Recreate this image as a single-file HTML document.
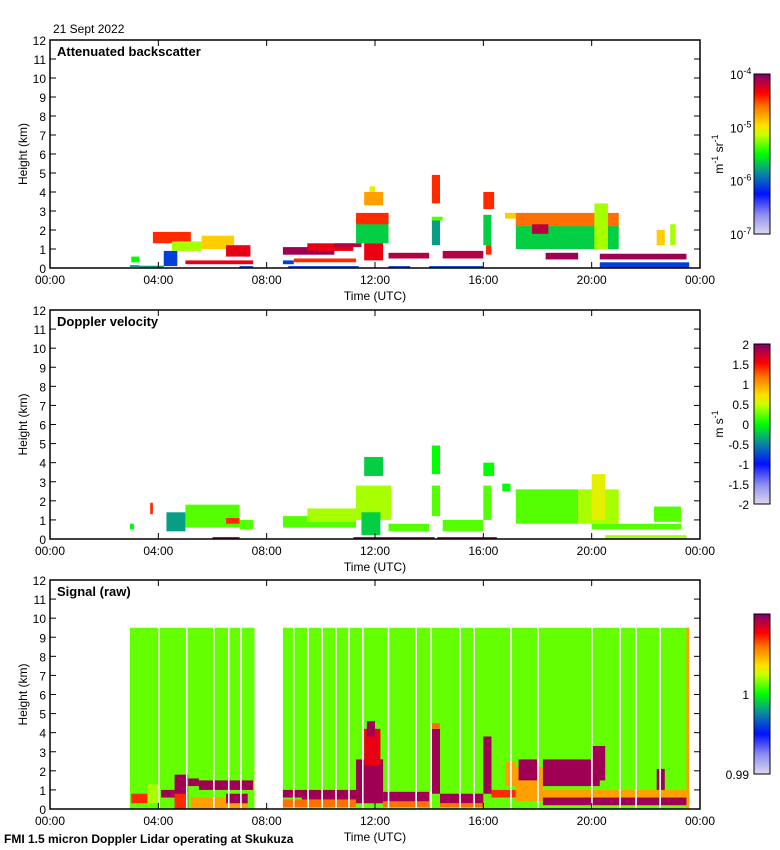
<!DOCTYPE html>
<html><head><meta charset="utf-8"><style>
body{margin:0;background:#fff;}
svg{display:block;font-family:"Liberation Sans",sans-serif;}
</style></head><body>
<svg id="chart" width="780" height="850" viewBox="0 0 780 850">
<defs>
<linearGradient id="cmap" x1="0" y1="1" x2="0" y2="0">
<stop offset="0" stop-color="#ddd8ee"/><stop offset="0.12" stop-color="#8f8ff0"/><stop offset="0.25" stop-color="#0010ff"/>
<stop offset="0.38" stop-color="#0a8aa0"/><stop offset="0.5" stop-color="#00ff00"/><stop offset="0.62" stop-color="#c8ff00"/>
<stop offset="0.68" stop-color="#ffe000"/><stop offset="0.8" stop-color="#ff7000"/><stop offset="0.88" stop-color="#ff0000"/>
<stop offset="1" stop-color="#800070"/></linearGradient>
</defs>
<text x="53" y="33" font-size="12">21 Sept 2022</text>
<text x="4" y="843" font-size="12" font-weight="bold">FMI 1.5 micron Doppler Lidar operating at Skukuza</text>
<g id="plots"></g>
</svg>
<script>
// Panel 1: attenuated backscatter segments [startHour, endHour, baseKm, topKm, colorLevel]
const bsStart=[2.95,3.0,3.3,4.2,3.8,4.5,5.6,6.5,5.0,7.0,8.6,8.6,9.5,9.0,10.5,8.8,11.3,11.3,11.6,11.8,11.6,12.5,12.5,14.1,14.1,14.1,14.5,14.0,16.0,16.0,16.1,16.8,17.2,17.2,17.8,18.3,20.3,20.1,20.3,22.4,22.9];
const bsEnd=[3.3,3.3,4.2,4.7,5.2,5.6,6.8,7.4,7.5,7.5,10.5,9.0,11.2,11.3,11.5,11.4,12.5,12.5,12.3,12.0,12.3,14.0,13.3,14.4,14.5,14.4,16.0,16.0,16.3,16.4,16.3,17.3,21.0,21.0,18.4,19.5,23.5,20.6,23.6,22.7,23.1];
const bsBase=[0.05,0.3,0,0.1,1.3,0.9,1.0,0.6,0.2,0,0.7,0.2,0.9,0.3,1.1,0,1.3,2.3,3.3,4.0,0.4,0.5,0,1.2,2.5,3.4,0.5,0,1.2,3.1,0.7,2.6,1.0,2.2,1.8,0.45,0.45,1.0,0,1.2,1.2];
const bsTop=[0.15,0.6,0.12,0.9,1.9,1.4,1.7,1.2,0.4,0.1,1.1,0.4,1.3,0.5,1.3,0.1,2.6,2.9,4.0,4.3,1.3,0.8,0.1,2.6,2.7,4.9,0.9,0.1,2.8,4.0,1.2,2.9,2.4,2.9,2.3,0.8,0.75,3.4,0.3,2.0,2.3];
const bsLevel=[0.4,0.5,0.4,0.3,0.85,0.6,0.7,0.9,0.9,0.3,0.97,0.3,0.9,0.85,0.95,0.3,0.45,0.85,0.75,0.65,0.9,0.95,0.3,0.4,0.55,0.85,0.95,0.3,0.45,0.85,0.85,0.7,0.45,0.8,0.95,0.97,0.97,0.6,0.3,0.7,0.6];
// Panel 2: Doppler velocity
const dvStart=[2.95,3.7,4.3,5.0,6.5,7.0,6.0,8.6,9.5,11.3,11.6,11.5,11.2,12.5,14.1,14.1,14.5,14.3,16.0,16.0,16.7,17.2,19.5,20.0,20.0,20.5,22.3];
const dvEnd=[3.1,3.8,5.0,7.0,7.0,7.5,7.0,11.3,11.3,12.6,12.3,12.2,14.2,14.0,14.4,14.4,16.0,16.5,16.3,16.4,17.0,19.5,21.0,20.5,23.3,23.5,23.3];
const dvBase=[0.5,1.3,0.4,0.6,0.8,0.5,0,0.6,0.9,1.0,3.3,0.2,0,0.4,1.2,3.4,0.4,0,1.0,3.3,2.5,0.8,0.8,1.0,0.5,0,0.9];
const dvTop=[0.8,1.9,1.4,1.8,1.1,1.0,0.1,1.2,1.6,2.8,4.3,1.4,0.1,0.8,2.8,4.9,1.0,0.1,2.8,4.0,2.9,2.6,2.6,3.4,0.8,0.2,1.7];
const dvLevel=[0.5,0.85,0.4,0.55,0.85,0.55,0.97,0.55,0.6,0.6,0.45,0.45,0.97,0.55,0.55,0.5,0.55,0.97,0.55,0.5,0.5,0.55,0.6,0.65,0.55,0.6,0.55];
// Panel 3: raw signal
const sgStart=[2.95,8.6,3.0,3.6,4.1,4.6,4.6,5.1,5.5,5.2,6.5,8.6,8.6,9.3,11.3,11.6,11.7,12.3,12.3,14.1,14.1,14.4,14.4,16.0,16.3,16.8,17.2,17.2,17.3,18.2,18.2,20.0,22.4,23.5];
const sgEnd=[7.55,23.6,3.6,4.0,4.6,5.1,5.1,5.5,7.5,7.3,7.3,9.5,11.3,11.3,12.3,12.2,12.0,14.0,14.0,14.4,14.4,16.0,16.0,16.3,17.2,17.2,23.6,18.2,18.0,20.3,23.6,20.5,22.7,23.6];
const sgBase=[0,0,0.3,0.3,0.6,0,0,1.2,1.0,0,0.3,0.6,0.1,0.5,0.3,2.3,3.8,0.4,0.1,0.8,4.2,0.3,0.1,0.8,0.6,1.2,0.4,0.5,1.5,1.2,0.2,1.5,1.0,0];
const sgTop=[9.5,9.5,0.8,1.3,1.0,1.8,0.8,1.6,1.5,0.6,0.8,1.0,0.5,1.0,2.6,4.2,4.6,0.9,0.4,4.2,4.5,0.8,0.3,3.8,1.0,2.5,1.0,2.2,2.6,2.6,0.6,3.3,2.1,9.5];
const sgLevel=[0.56,0.56,0.85,0.6,0.97,0.97,0.85,0.97,0.97,0.75,0.97,0.97,0.8,0.97,0.97,0.9,0.97,0.97,0.8,0.97,0.8,0.97,0.8,0.97,0.85,0.75,0.75,0.75,0.97,0.97,0.97,0.97,0.97,0.75];
const sgGaps=[4.03,5.05,6.05,6.6,7.05,9.0,9.53,10.05,10.56,11.04,11.55,12.5,13.52,14.07,15.14,15.66,17.02,18.02,20.01,21.05,21.64,22.53];
const xTicks=["00:00","04:00","08:00","12:00","16:00","20:00","00:00"];
const yTicks=[0,1,2,3,4,5,6,7,8,9,10,11,12];
const bsCbLabels=["-4","-5","-6","-7"];
const dvCbLabels=["2","1.5","1","0.5","0","-0.5","-1","-1.5","-2"];

const NS="http://www.w3.org/2000/svg";
const stops=[[0,[221,216,238]],[0.12,[143,143,240]],[0.25,[0,16,255]],[0.38,[10,138,160]],[0.5,[0,255,0]],[0.62,[200,255,0]],[0.68,[255,224,0]],[0.8,[255,112,0]],[0.88,[255,0,0]],[1,[128,0,112]]];
function cmap(v){for(let i=1;i<stops.length;i++){if(v<=stops[i][0]){const a=stops[i-1],b=stops[i];const t=(v-a[0])/(b[0]-a[0]);return `rgb(${a[1].map((c,j)=>Math.round(c+(b[1][j]-c)*t)).join(',')})`;}}return 'rgb(128,0,112)';}
const plots=document.getElementById('plots');
function el(tag,attrs,parent){const e=document.createElementNS(NS,tag);for(const k in attrs)e.setAttribute(k,attrs[k]);(parent||plots).appendChild(e);return e;}
const X0=50,X1=700;
function xs(h){return X0+h*(X1-X0)/24;}

function panel(idx,top,bot,title,S,E,B,T,L,gaps,cbLabels,unit){
  const g=el('g',{});
  
  
  const ys=k=>bot-k*(bot-top)/12;
  for(let i=0;i<S.length;i++){
    const r=el('rect',{x:xs(S[i]),y:ys(T[i]),width:xs(E[i])-xs(S[i]),height:ys(B[i])-ys(T[i]),fill:cmap(L[i])},g);
    
    
  }
  if(gaps){for(const h of gaps){const r=el('rect',{x:xs(h)-0.8,y:ys(9.5),width:1.6,height:ys(0)-ys(9.5),fill:'#fff'},g);
    
    }}
  el('rect',{x:X0,y:top,width:X1-X0,height:bot-top,fill:'none',stroke:'#000','stroke-width':1.5},g);
  for(const k of yTicks){const y=ys(k);
    el('line',{x1:X0,x2:X0+6,y1:y,y2:y,stroke:'#000'},g);
    el('line',{x1:X1-6,x2:X1,y1:y,y2:y,stroke:'#000'},g);
    const t=el('text',{x:X0-4,y:y+5,'font-size':12,'text-anchor':'end'},g);t.textContent=k;
    
    }
  xTicks.forEach((lab,i)=>{const x=xs(i*4);
    el('line',{x1:x,x2:x,y1:bot,y2:bot-6,stroke:'#000'},g);
    el('line',{x1:x,x2:x,y1:top,y2:top+6,stroke:'#000'},g);
    const t=el('text',{x:x,y:bot+16,'font-size':12,'text-anchor':'middle'},g);t.textContent=lab;
    
    });
  const xt=el('text',{x:375,y:bot+32,'font-size':12,'text-anchor':'middle'},g);xt.textContent='Time (UTC)';
  
  
  const yt=el('text',{x:0,y:0,'font-size':12,'text-anchor':'middle',transform:`translate(27,${(top+bot)/2}) rotate(-90)`},g);yt.textContent='Height (km)';
  
  
  const tt=el('text',{x:57,y:top+16,'font-size':13,'font-weight':'bold'},g);tt.textContent=title;
  
  
  const ct=top+34,cb=top+194;
  const cr=el('rect',{x:754,y:ct,width:16,height:cb-ct,fill:'url(#cmap)',stroke:'#000','stroke-width':1},g);
  
  
  if(idx===1){cbLabels.forEach((s,i)=>{const y=ct+i*(cb-ct)/3;
    const t=el('text',{x:730,y:y+5,'font-size':12},g);t.innerHTML='10<tspan dy="-5" font-size="9">'+s+'</tspan>';
    
    });}
  else if(idx===2){cbLabels.forEach((s,i)=>{const y=ct+i*(cb-ct)/8;
    const t=el('text',{x:749,y:y+5,'font-size':12,'text-anchor':'end'},g);t.textContent=s;
    
    });}
  else {[['1',(ct+cb)/2],['0.99',cb]].forEach(([s,y])=>{const t=el('text',{x:749,y:y+5,'font-size':12,'text-anchor':'end'},g);t.textContent=s;
    
    });}
  if(unit){const u=el('text',{x:0,y:0,'font-size':12,'text-anchor':'middle',transform:`translate(723,${(ct+cb)/2}) rotate(-90)`},g);u.innerHTML=unit;
    
    }
}
panel(1,40,268,'Attenuated backscatter',bsStart,bsEnd,bsBase,bsTop,bsLevel,null,bsCbLabels,'m<tspan dy="-5" font-size="9">-1</tspan><tspan dy="5"> sr</tspan><tspan dy="-5" font-size="9">-1</tspan>');
panel(2,310,539,'Doppler velocity',dvStart,dvEnd,dvBase,dvTop,dvLevel,null,dvCbLabels,'m s<tspan dy="-5" font-size="9">-1</tspan>');
panel(3,580,809,'Signal (raw)',sgStart,sgEnd,sgBase,sgTop,sgLevel,sgGaps,null,null);
</script>
</body></html>
